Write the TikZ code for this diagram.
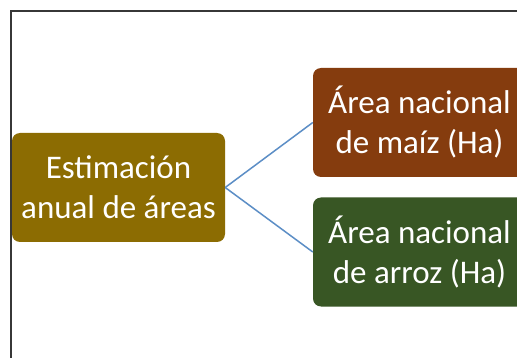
\documentclass[tikz,border=0pt]{standalone}
\usepackage{fontspec}
\setmainfont{Carlito}
\definecolor{goldbox}{RGB}{140,108,2}
\definecolor{brownbox}{RGB}{133,60,14}
\definecolor{greenbox}{RGB}{56,86,36}
\definecolor{linkblue}{RGB}{92,142,198}
\definecolor{framegray}{RGB}{55,55,55}
\begin{document}
\begin{tikzpicture}[x=1pt,y=-1pt,
  box/.style={rounded corners=8pt, minimum width=213pt, minimum height=109pt,
    inner sep=0pt, align=center, text=white,
    font=\fontsize{33}{40}\selectfont},
  link/.style={draw=linkblue, line width=1.5pt}]
\useasboundingbox (0,0) rectangle (517,358);
\clip (0,0) rectangle (517,358);
\fill[white] (0,0) rectangle (517,358);
\draw[framegray, line width=2pt] (11,11) rectangle (540,380);
\node[box, fill=goldbox] (est) at (118.5,187.5) {Estimación\\anual de áreas};
\node[box, fill=brownbox] (maiz) at (419.5,122.5) {Área nacional\\de maíz (Ha)};
\node[box, fill=greenbox] (arroz) at (419.5,252) {Área nacional\\de arroz (Ha)};
\draw[link] (est.east) -- (maiz.west);
\draw[link] (est.east) -- (arroz.west);
\end{tikzpicture}
\end{document}
